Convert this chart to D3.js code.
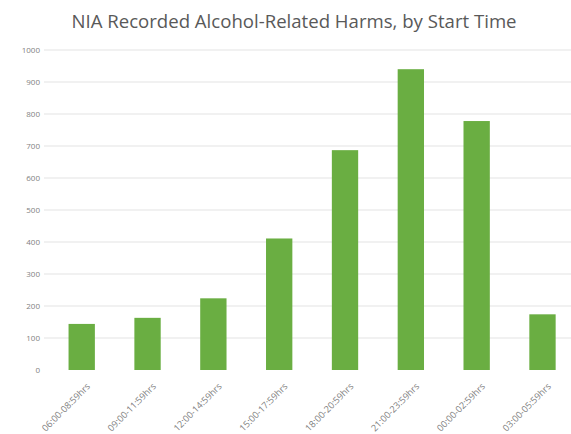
<!DOCTYPE html>
<html>
<head>
<meta charset="utf-8">
<script src="https://cdn.jsdelivr.net/npm/d3@7/dist/d3.min.js"></script>
<style>
  html, body { margin: 0; padding: 0; background: #fff; }
  svg { display: block; }
</style>
</head>
<body>
<svg id="chart" width="571" height="434"></svg>
<script>
// Start-time bands and counts of recorded alcohol-related harms
const timeBands = [
  "06:00-08:59hrs", "09:00-11:59hrs", "12:00-14:59hrs", "15:00-17:59hrs",
  "18:00-20:59hrs", "21:00-23:59hrs", "00:00-02:59hrs", "03:00-05:59hrs"
];
const harmCounts = [144, 163, 224, 411, 687, 940, 778, 174];
const yTicks = [0, 100, 200, 300, 400, 500, 600, 700, 800, 900, 1000];
const chartTitle = "NIA Recorded Alcohol-Related Harms, by Start Time";

const svg = d3.select("#chart");
const font = "'Open Sans', 'Liberation Sans', sans-serif";

const plot = { left: 48.8, right: 575.4, top: 50, bottom: 370 };

const x = d3.scaleBand()
  .domain(timeBands)
  .range([plot.left, plot.right])
  .paddingInner(0.6)
  .paddingOuter(0.3);

const y = d3.scaleLinear()
  .domain([0, 1000])
  .range([plot.bottom, plot.top]);

// Title
svg.append("text")
  .attr("x", 294)
  .attr("y", 28)
  .attr("text-anchor", "middle")
  .attr("font-family", font)
  .attr("font-size", 18.6)
  .attr("fill", "#595959")
  .text(chartTitle);

// Horizontal gridlines
svg.append("g")
  .selectAll("line")
  .data(yTicks.filter(d => d > 0))
  .join("line")
  .attr("x1", 44)
  .attr("x2", 571)
  .attr("y1", d => y(d))
  .attr("y2", d => y(d))
  .attr("stroke", "#e3e3e3")
  .attr("stroke-width", 1);

// Y axis labels
const yAxis = d3.axisLeft(y).tickValues(yTicks).tickFormat(d3.format("d")).tickSize(0).tickPadding(0);
svg.append("g")
  .attr("transform", "translate(40,0)")
  .call(yAxis)
  .call(g => g.select(".domain").remove())
  .call(g => g.selectAll("text")
    .attr("font-family", font)
    .attr("font-size", 8)
    .attr("fill", "#7f7f7f"));

// Bars
svg.append("g")
  .selectAll("rect")
  .data(harmCounts)
  .join("rect")
  .attr("x", (d, i) => x(timeBands[i]))
  .attr("y", d => y(d))
  .attr("width", x.bandwidth())
  .attr("height", d => y(0) - y(d))
  .attr("fill", "#6aae42");

// X axis labels, rotated
const xAxis = d3.axisBottom(x).tickSize(0).tickPadding(0);
svg.append("g")
  .attr("transform", `translate(0,${plot.bottom})`)
  .call(xAxis)
  .call(g => g.select(".domain").remove())
  .call(g => g.selectAll("text")
    .attr("font-family", font)
    .attr("font-size", 9.2)
    .attr("fill", "#7f7f7f")
    .attr("text-anchor", "end")
    .attr("dy", 0)
    .attr("y", 0)
    .attr("transform", "translate(9,17) rotate(-45)"));
</script>
</body>
</html>
